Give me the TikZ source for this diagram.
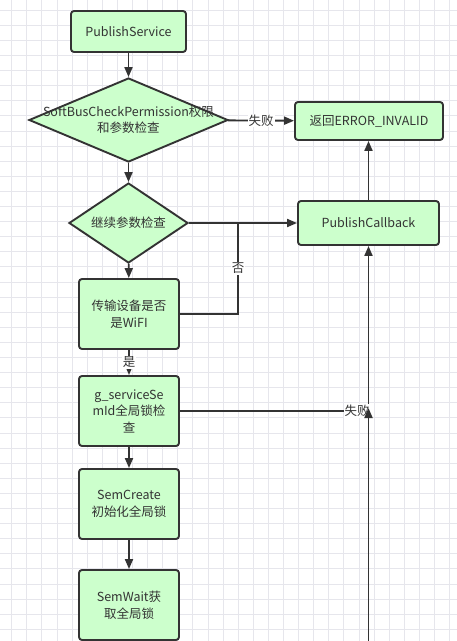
\documentclass[tikz,border=0pt]{standalone}
\usepackage{fontspec}
\setmainfont{Noto Sans CJK SC}
\usetikzlibrary{shapes.geometric,arrows.meta,calc}
\definecolor{boxfill}{HTML}{CCFFCC}
\definecolor{edgec}{HTML}{333333}
\definecolor{gridc}{HTML}{E6E6EC}
\begin{document}
\begin{tikzpicture}[x=1pt,y=-1pt,
  txt/.style={font=\fontsize{12.5}{16.5}\selectfont, text=edgec},
  box/.style={draw=edgec, fill=boxfill, line width=1.9pt, rounded corners=3pt, inner sep=0pt, align=center, txt},
  dia/.style={draw=edgec, fill=boxfill, line width=1.9pt, diamond, inner sep=0pt},
  dtext/.style={align=center, txt},
  arr/.style={draw=edgec, line width=1.9pt, -{Triangle[length=10pt,width=8pt]}},
  ln/.style={draw=edgec, line width=1.9pt},
  lbl/.style={fill=white, inner sep=1pt, txt}]
\useasboundingbox (0,0) rectangle (457,641);
\fill[white] (0,0) rectangle (457,641);
\foreach \i in {0,...,30} {\draw[gridc, line width=0.6pt] (11.5+15.1*\i,0) -- (11.5+15.1*\i,641);}
\foreach \i in {0,...,42} {\draw[gridc, line width=0.6pt] (0,10+15.1*\i) -- (457,10+15.1*\i);}

\node[box, minimum width=115, minimum height=41] (ps) at (128.5,31.5) {PublishService};
\node[dia, minimum width=199, minimum height=84, label={[dtext]center:SoftBusCheckPermission权限\\和参数检查}] (d1) at (128.5,120) {};
\node[box, minimum width=148, minimum height=38] (err) at (369,121) {返回ERROR\_INVALID};
\node[dia, minimum width=119, minimum height=80, label={[dtext]center:继续参数检查}] (d2) at (128.5,223) {};
\node[box, minimum width=141, minimum height=44] (pc) at (368.5,223) {PublishCallback};
\node[box, minimum width=100, minimum height=70] (wifi) at (129,314) {传输设备是否\\是WiFI};
\node[box, minimum width=100, minimum height=70] (sem) at (129,411) {g\_serviceSe\\mId全局锁检\\查};
\node[box, minimum width=100, minimum height=70] (create) at (129,504) {SemCreate\\初始化全局锁};
\node[box, minimum width=100, minimum height=70] (wait) at (129,605) {SemWait获\\取全局锁};

\coordinate (j1) at (238,223);
\coordinate (bot) at (368.5,641);
\coordinate (j3) at (368.5,408);

\draw[arr] (ps) -- (d1);
\draw[arr] (d1) -- (d2);
\draw[arr] (d2) -- (wifi);
\draw[arr] (wifi) -- node[lbl]{是} (sem);
\draw[arr] (sem) -- (create);
\draw[arr] (create) -- (wait);
\draw[arr] (d1) -- node[lbl]{失败} (err);
\draw[arr] (d2) -- (pc);
\draw[ln] (wifi.east) -| node[lbl, pos=0.75]{否} (j1);
\draw[arr] (sem.east) -| node[lbl, pos=0.47]{失败} (pc.south);
\draw[arr] (bot) -- (j3);
\draw[arr] (pc.north) -- (pc.north |- err.south);
\end{tikzpicture}
\end{document}
